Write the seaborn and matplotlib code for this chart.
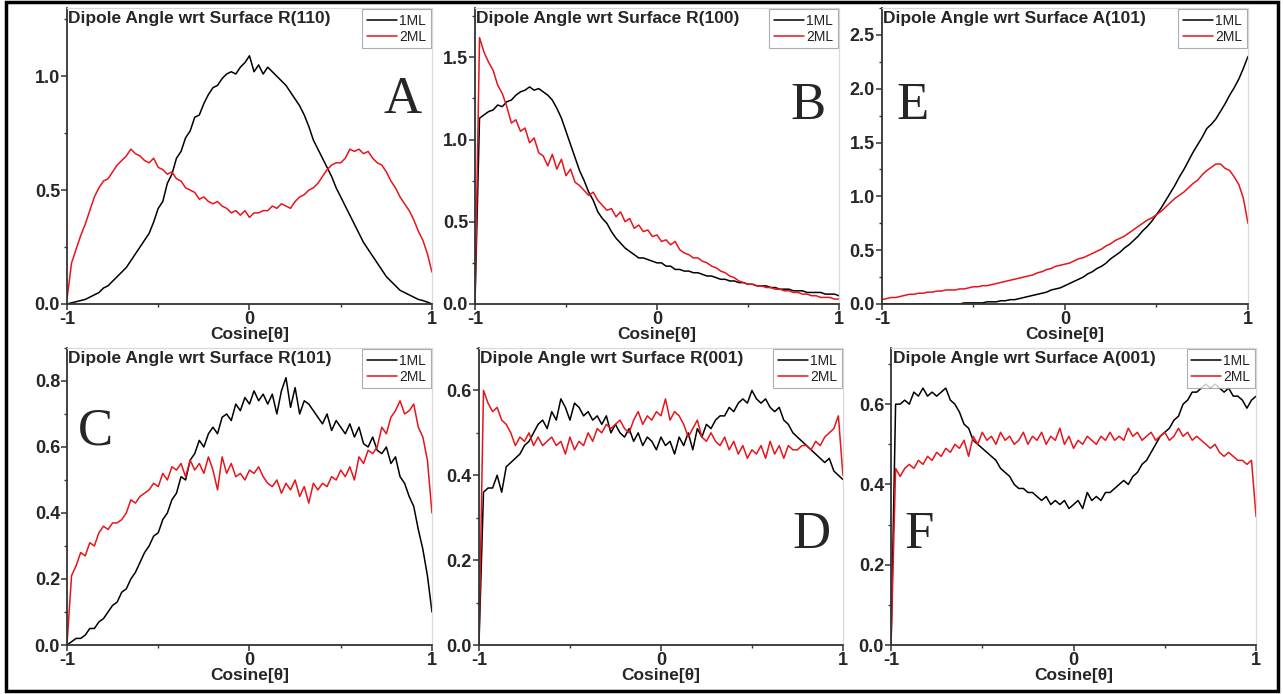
#!/usr/bin/env python3
"""
Dipole angle distributions (cosine of angle wrt surface normal) for 1ML and 2ML
water on six TiO2 surfaces, laid out as a 2x3 panel figure.
"""

import numpy as np
import pandas as pd

import matplotlib
matplotlib.use('Agg')
import matplotlib.pyplot as plt
from matplotlib.patches import Rectangle
from matplotlib.ticker import MultipleLocator, FormatStrFormatter
import seaborn as sns


# cos(theta) grid shared by every curve
cos_theta = np.linspace(-1.0, 1.0, 81)

# R(110)
r110_1ml = [0.00, 0.005, 0.01, 0.015, 0.02, 0.03, 0.04, 0.05, 0.07, 0.08,
            0.10, 0.12, 0.14, 0.16, 0.19, 0.22, 0.25, 0.28, 0.31, 0.36,
            0.42, 0.45, 0.53, 0.57, 0.64, 0.67, 0.73, 0.76, 0.82, 0.83,
            0.88, 0.92, 0.95, 0.96, 0.99, 1.01, 1.02, 1.01, 1.04, 1.06,
            1.09, 1.02, 1.05, 1.01, 1.04, 1.02, 1.00, 0.98, 0.96, 0.93,
            0.90, 0.87, 0.83, 0.78, 0.72, 0.68, 0.64, 0.60, 0.56, 0.51,
            0.47, 0.43, 0.39, 0.35, 0.31, 0.27, 0.24, 0.21, 0.18, 0.15,
            0.12, 0.10, 0.08, 0.06, 0.05, 0.04, 0.03, 0.02, 0.015, 0.008,
            0.00]
r110_2ml = [0.02, 0.18, 0.24, 0.30, 0.35, 0.41, 0.47, 0.51, 0.54, 0.55,
            0.58, 0.61, 0.63, 0.65, 0.68, 0.66, 0.65, 0.63, 0.62, 0.64,
            0.60, 0.59, 0.57, 0.58, 0.55, 0.54, 0.51, 0.50, 0.49, 0.46,
            0.47, 0.45, 0.44, 0.45, 0.43, 0.42, 0.40, 0.41, 0.39, 0.41,
            0.38, 0.40, 0.40, 0.41, 0.41, 0.43, 0.42, 0.44, 0.43, 0.42,
            0.45, 0.47, 0.48, 0.50, 0.51, 0.53, 0.56, 0.59, 0.61, 0.62,
            0.62, 0.64, 0.68, 0.67, 0.68, 0.66, 0.67, 0.64, 0.62, 0.61,
            0.58, 0.54, 0.51, 0.47, 0.44, 0.41, 0.37, 0.32, 0.28, 0.22,
            0.14]

# R(100)
r100_1ml = [0.00, 1.13, 1.15, 1.17, 1.18, 1.21, 1.20, 1.23, 1.24, 1.27,
            1.29, 1.30, 1.32, 1.30, 1.31, 1.29, 1.27, 1.24, 1.19, 1.13,
            1.05, 0.97, 0.89, 0.81, 0.75, 0.68, 0.63, 0.56, 0.52, 0.49,
            0.44, 0.40, 0.37, 0.34, 0.32, 0.30, 0.28, 0.28, 0.27, 0.26,
            0.25, 0.25, 0.23, 0.23, 0.21, 0.21, 0.20, 0.20, 0.19, 0.19,
            0.18, 0.17, 0.17, 0.16, 0.15, 0.15, 0.14, 0.14, 0.13, 0.13,
            0.12, 0.12, 0.11, 0.11, 0.11, 0.10, 0.10, 0.09, 0.09, 0.09,
            0.08, 0.08, 0.08, 0.07, 0.07, 0.07, 0.07, 0.06, 0.06, 0.06,
            0.05]
r100_2ml = [0.00, 1.62, 1.53, 1.47, 1.42, 1.33, 1.28, 1.20, 1.10, 1.12,
            1.05, 1.07, 0.98, 1.01, 0.92, 0.90, 0.84, 0.91, 0.82, 0.88,
            0.78, 0.82, 0.74, 0.72, 0.69, 0.66, 0.68, 0.63, 0.60, 0.57,
            0.58, 0.53, 0.56, 0.50, 0.52, 0.46, 0.48, 0.44, 0.45, 0.41,
            0.42, 0.38, 0.39, 0.36, 0.38, 0.33, 0.31, 0.30, 0.28, 0.28,
            0.26, 0.25, 0.23, 0.22, 0.20, 0.19, 0.17, 0.16, 0.14, 0.13,
            0.12, 0.12, 0.11, 0.11, 0.10, 0.10, 0.09, 0.09, 0.08, 0.08,
            0.07, 0.07, 0.06, 0.06, 0.05, 0.05, 0.04, 0.04, 0.04, 0.03,
            0.03]

# A(101)
a101_1ml = [0.00, 0.00, 0.00, 0.00, 0.00, 0.00, 0.00, 0.00, 0.00, 0.00,
            0.00, 0.00, 0.00, 0.00, 0.00, 0.00, 0.00, 0.00, 0.01, 0.01,
            0.01, 0.01, 0.01, 0.02, 0.02, 0.02, 0.03, 0.03, 0.04, 0.04,
            0.05, 0.06, 0.07, 0.08, 0.09, 0.10, 0.11, 0.13, 0.14, 0.15,
            0.17, 0.19, 0.21, 0.23, 0.25, 0.28, 0.30, 0.33, 0.35, 0.38,
            0.42, 0.45, 0.48, 0.52, 0.55, 0.59, 0.63, 0.68, 0.72, 0.77,
            0.83, 0.89, 0.96, 1.03, 1.10, 1.18, 1.25, 1.33, 1.41, 1.48,
            1.55, 1.63, 1.67, 1.72, 1.79, 1.86, 1.94, 2.01, 2.09, 2.19,
            2.30]
a101_2ml = [0.04, 0.05, 0.06, 0.06, 0.07, 0.08, 0.09, 0.09, 0.10, 0.10,
            0.11, 0.11, 0.12, 0.12, 0.13, 0.13, 0.13, 0.14, 0.14, 0.15,
            0.16, 0.16, 0.17, 0.17, 0.18, 0.19, 0.20, 0.21, 0.22, 0.23,
            0.24, 0.25, 0.26, 0.27, 0.29, 0.30, 0.32, 0.33, 0.35, 0.36,
            0.37, 0.38, 0.40, 0.42, 0.43, 0.45, 0.47, 0.49, 0.51, 0.54,
            0.56, 0.59, 0.61, 0.63, 0.66, 0.69, 0.72, 0.75, 0.78, 0.80,
            0.83, 0.86, 0.90, 0.94, 0.98, 1.01, 1.04, 1.08, 1.12, 1.15,
            1.20, 1.24, 1.27, 1.30, 1.30, 1.26, 1.24, 1.18, 1.11, 0.98,
            0.75]

# R(101)
r101_1ml = [0.00, 0.01, 0.02, 0.02, 0.03, 0.05, 0.05, 0.07, 0.08, 0.10,
            0.12, 0.13, 0.16, 0.17, 0.20, 0.22, 0.25, 0.28, 0.30, 0.33,
            0.34, 0.38, 0.40, 0.44, 0.46, 0.51, 0.50, 0.56, 0.58, 0.62,
            0.60, 0.64, 0.66, 0.64, 0.69, 0.70, 0.68, 0.73, 0.71, 0.75,
            0.73, 0.77, 0.74, 0.76, 0.73, 0.76, 0.70, 0.77, 0.81, 0.72,
            0.78, 0.70, 0.74, 0.73, 0.71, 0.69, 0.67, 0.70, 0.65, 0.68,
            0.66, 0.64, 0.67, 0.63, 0.66, 0.61, 0.60, 0.63, 0.59, 0.58,
            0.60, 0.55, 0.57, 0.51, 0.49, 0.45, 0.42, 0.35, 0.29, 0.21,
            0.10]
r101_2ml = [0.00, 0.21, 0.24, 0.28, 0.27, 0.31, 0.30, 0.34, 0.36, 0.35,
            0.37, 0.37, 0.38, 0.40, 0.44, 0.43, 0.45, 0.46, 0.47, 0.49,
            0.48, 0.52, 0.50, 0.54, 0.53, 0.55, 0.51, 0.56, 0.53, 0.55,
            0.52, 0.57, 0.53, 0.47, 0.57, 0.52, 0.55, 0.51, 0.52, 0.50,
            0.53, 0.52, 0.54, 0.51, 0.49, 0.48, 0.50, 0.46, 0.49, 0.47,
            0.50, 0.45, 0.48, 0.43, 0.49, 0.47, 0.49, 0.48, 0.51, 0.50,
            0.53, 0.51, 0.54, 0.50, 0.57, 0.55, 0.59, 0.58, 0.60, 0.66,
            0.64, 0.69, 0.71, 0.74, 0.70, 0.71, 0.73, 0.66, 0.63, 0.56,
            0.40]

# R(001)
r001_1ml = [0.00, 0.36, 0.37, 0.37, 0.40, 0.36, 0.42, 0.43, 0.44, 0.45,
            0.47, 0.48, 0.50, 0.52, 0.53, 0.51, 0.55, 0.53, 0.58, 0.56,
            0.53, 0.57, 0.56, 0.54, 0.55, 0.53, 0.54, 0.52, 0.54, 0.50,
            0.52, 0.50, 0.49, 0.51, 0.48, 0.50, 0.47, 0.49, 0.48, 0.46,
            0.49, 0.47, 0.48, 0.45, 0.49, 0.47, 0.50, 0.46, 0.51, 0.49,
            0.52, 0.51, 0.53, 0.54, 0.54, 0.56, 0.55, 0.57, 0.58, 0.57,
            0.60, 0.58, 0.57, 0.58, 0.56, 0.55, 0.56, 0.53, 0.52, 0.50,
            0.49, 0.48, 0.47, 0.46, 0.45, 0.44, 0.43, 0.44, 0.41, 0.40,
            0.39]
r001_2ml = [0.00, 0.60, 0.57, 0.55, 0.56, 0.53, 0.52, 0.50, 0.47, 0.49,
            0.48, 0.50, 0.47, 0.49, 0.47, 0.48, 0.49, 0.47, 0.48, 0.45,
            0.49, 0.46, 0.48, 0.47, 0.50, 0.48, 0.51, 0.50, 0.52, 0.51,
            0.52, 0.53, 0.51, 0.50, 0.53, 0.55, 0.52, 0.54, 0.53, 0.55,
            0.54, 0.58, 0.53, 0.55, 0.54, 0.52, 0.49, 0.51, 0.53, 0.49,
            0.48, 0.50, 0.48, 0.47, 0.49, 0.46, 0.48, 0.45, 0.47, 0.44,
            0.46, 0.45, 0.47, 0.44, 0.48, 0.45, 0.47, 0.44, 0.47, 0.46,
            0.46, 0.47, 0.47, 0.46, 0.48, 0.47, 0.49, 0.50, 0.51, 0.54,
            0.40]

# A(001)
a001_1ml = [0.00, 0.60, 0.60, 0.61, 0.60, 0.63, 0.62, 0.64, 0.62, 0.63,
            0.62, 0.63, 0.64, 0.61, 0.60, 0.58, 0.55, 0.54, 0.51, 0.50,
            0.49, 0.48, 0.47, 0.46, 0.44, 0.43, 0.42, 0.40, 0.39, 0.39,
            0.38, 0.38, 0.37, 0.36, 0.37, 0.35, 0.36, 0.35, 0.36, 0.34,
            0.35, 0.36, 0.34, 0.38, 0.36, 0.37, 0.36, 0.38, 0.38, 0.39,
            0.40, 0.41, 0.40, 0.42, 0.43, 0.45, 0.46, 0.48, 0.50, 0.52,
            0.53, 0.54, 0.56, 0.57, 0.60, 0.61, 0.63, 0.63, 0.64, 0.65,
            0.64, 0.65, 0.64, 0.63, 0.64, 0.62, 0.62, 0.61, 0.59, 0.61,
            0.62]
a001_2ml = [0.00, 0.44, 0.42, 0.44, 0.45, 0.44, 0.46, 0.45, 0.47, 0.46,
            0.48, 0.47, 0.49, 0.48, 0.50, 0.49, 0.51, 0.47, 0.52, 0.50,
            0.53, 0.51, 0.52, 0.50, 0.53, 0.51, 0.52, 0.50, 0.51, 0.53,
            0.50, 0.52, 0.51, 0.53, 0.50, 0.52, 0.51, 0.54, 0.50, 0.52,
            0.49, 0.51, 0.50, 0.52, 0.51, 0.50, 0.52, 0.51, 0.53, 0.51,
            0.52, 0.51, 0.54, 0.52, 0.53, 0.51, 0.52, 0.53, 0.51, 0.52,
            0.53, 0.51, 0.52, 0.54, 0.52, 0.53, 0.51, 0.52, 0.51, 0.50,
            0.49, 0.50, 0.48, 0.47, 0.48, 0.47, 0.46, 0.46, 0.45, 0.46,
            0.32]

surfaces = ["R(110)", "R(100)", "A(101)", "R(101)", "R(001)", "A(001)"]
panel_letters = ["A", "B", "E", "C", "D", "F"]
series_1ml = [r110_1ml, r100_1ml, a101_1ml, r101_1ml, r001_1ml, a001_1ml]
series_2ml = [r110_2ml, r100_2ml, a101_2ml, r101_2ml, r001_2ml, a001_2ml]
y_tops = [1.3, 1.8, 2.75, 0.9, 0.7, 0.74]
y_major = [0.5, 0.5, 0.5, 0.2, 0.2, 0.2]

# layout (figure fractions) and letter spots (axes fractions)
axes_rects = [
    [0.0522, 0.562, 0.2845, 0.4265],
    [0.3702, 0.562, 0.2837, 0.4265],
    [0.6874, 0.562, 0.2853, 0.4265],
    [0.0522, 0.0706, 0.2845, 0.428],
    [0.3733, 0.0706, 0.2837, 0.428],
    [0.6945, 0.0706, 0.2845, 0.428],
]
letter_pos = [(0.92, 0.69), (0.915, 0.67), (0.083, 0.67),
              (0.077, 0.72), (0.915, 0.37), (0.077, 0.37)]


def draw_panel(ax, surface, letter, y1, y2, ytop, ystep, lpos):
    df = pd.DataFrame({"cos": cos_theta, "1ML": y1, "2ML": y2})
    sns.lineplot(data=df, x="cos", y="1ML", ax=ax, color="black", lw=1.1, label="1ML")
    sns.lineplot(data=df, x="cos", y="2ML", ax=ax, color="#e8141b", lw=1.1, label="2ML")

    ax.set_xlim(-1, 1)
    ax.set_ylim(0, ytop)
    ax.set_xticks([-1, 0, 1])
    ax.set_xticklabels(["-1", "0", "1"])
    ax.xaxis.set_minor_locator(MultipleLocator(0.5))
    ax.yaxis.set_major_locator(MultipleLocator(ystep))
    ax.yaxis.set_minor_locator(MultipleLocator(ystep / 2))
    ax.yaxis.set_major_formatter(FormatStrFormatter("%.1f"))
    ax.tick_params(which="major", direction="out", length=4, width=1.1,
                   labelsize=13, pad=1, color="#333333")
    ax.tick_params(which="minor", direction="out", length=2.5, width=1, color="#333333")
    for lab in ax.get_xticklabels() + ax.get_yticklabels():
        lab.set_fontweight("bold")

    for side in ["left", "bottom"]:
        ax.spines[side].set_color("#333333")
        ax.spines[side].set_linewidth(1.3)
    for side in ["top", "right"]:
        ax.spines[side].set_color("#d9d9d9")
        ax.spines[side].set_linewidth(0.9)

    ax.set_xlabel("Cosine[θ]", fontsize=12.5, fontweight="bold", labelpad=-1)
    ax.set_ylabel("")

    ax.text(0.004, 0.99, f"Dipole Angle wrt Surface {surface}", transform=ax.transAxes,
            ha="left", va="top", fontsize=12.5, fontweight="bold")
    ax.text(lpos[0], lpos[1], letter, transform=ax.transAxes, ha="center", va="center",
            fontsize=38, family=["Liberation Serif", "DejaVu Serif"])

    leg = ax.legend(loc="upper right", fontsize=10, frameon=True, fancybox=False,
                    borderaxespad=0.1, handlelength=2.2, handletextpad=0.15,
                    borderpad=0.3, labelspacing=0.15)
    leg.get_frame().set_edgecolor("#999999")
    leg.get_frame().set_linewidth(0.8)
    for t in leg.get_texts():
        t.set_color("#222222")


def main():
    sns.set_style("ticks")
    plt.rcParams["font.family"] = ["Liberation Sans", "DejaVu Sans"]

    fig = plt.figure(figsize=(12.83, 6.94), dpi=100)
    for i in range(6):
        ax = fig.add_axes(axes_rects[i])
        draw_panel(ax, surfaces[i], panel_letters[i], series_1ml[i], series_2ml[i],
                   y_tops[i], y_major[i], letter_pos[i])

    # outer frame round the whole figure
    fig.patches.append(Rectangle((0.0045, 0.004), 0.9915, 0.993, transform=fig.transFigure,
                                 fill=False, edgecolor="black", linewidth=2.5))

    fig.savefig("out.png", dpi=100)
    plt.close(fig)


if __name__ == "__main__":
    main()
